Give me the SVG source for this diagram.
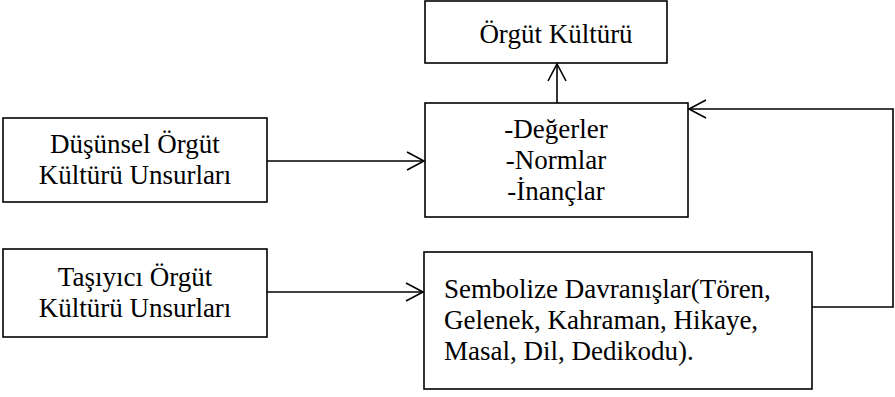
<svg xmlns="http://www.w3.org/2000/svg" width="895" height="397" viewBox="0 0 895 397">
  <style>
    .box { fill: #ffffff; stroke: #000000; stroke-width: 1.6; }
    .lbl { font-family: "Liberation Serif", "Times New Roman", serif; font-size: 27px; fill: #000000; }
    .mid { text-anchor: middle; }
    .conn { fill: none; stroke: #000000; stroke-width: 1.6; }
  </style>
  <defs>
    <marker id="openArrow" markerUnits="userSpaceOnUse" markerWidth="24" markerHeight="24" viewBox="-20 -12 24 24" refX="0" refY="0" orient="auto">
      <path d="M-17,-9 L0,0 L-17,9" fill="none" stroke="#000000" stroke-width="1.6"/>
    </marker>
  </defs>

  <g id="node-orgut-kulturu">
    <rect class="box" x="425" y="1" width="242" height="62"/>
    <text class="lbl mid" x="556" y="43">Örgüt Kültürü</text>
  </g>

  <g id="node-degerler">
    <rect class="box" x="425" y="103" width="263" height="114"/>
    <text class="lbl mid" x="556" y="138">-Değerler</text>
    <text class="lbl mid" x="556" y="169">-Normlar</text>
    <text class="lbl mid" x="556" y="200">-İnançlar</text>
  </g>

  <g id="node-dusunsel">
    <rect class="box" x="3" y="118" width="264" height="84"/>
    <text class="lbl mid" x="135" y="153">Düşünsel Örgüt</text>
    <text class="lbl mid" x="135" y="184">Kültürü Unsurları</text>
  </g>

  <g id="node-tasiyici">
    <rect class="box" x="3" y="249" width="264" height="88"/>
    <text class="lbl mid" x="135" y="286">Taşıyıcı Örgüt</text>
    <text class="lbl mid" x="135" y="317">Kültürü Unsurları</text>
  </g>

  <g id="node-sembolize">
    <rect class="box" x="424" y="252" width="388" height="137"/>
    <text class="lbl" x="444" y="298">Sembolize Davranışlar(Tören,</text>
    <text class="lbl" x="444" y="329">Gelenek, Kahraman, Hikaye,</text>
    <text class="lbl" x="444" y="360">Masal, Dil, Dedikodu).</text>
  </g>

  <g id="connectors">
    <path class="conn" d="M557,103 L557,64" marker-end="url(#openArrow)"/>
    <path class="conn" d="M267,161 L424,161" marker-end="url(#openArrow)"/>
    <path class="conn" d="M267,292 L423,292" marker-end="url(#openArrow)"/>
    <path class="conn" d="M812,307 L893,307 L893,109 L689,109" marker-end="url(#openArrow)"/>
  </g>
</svg>
